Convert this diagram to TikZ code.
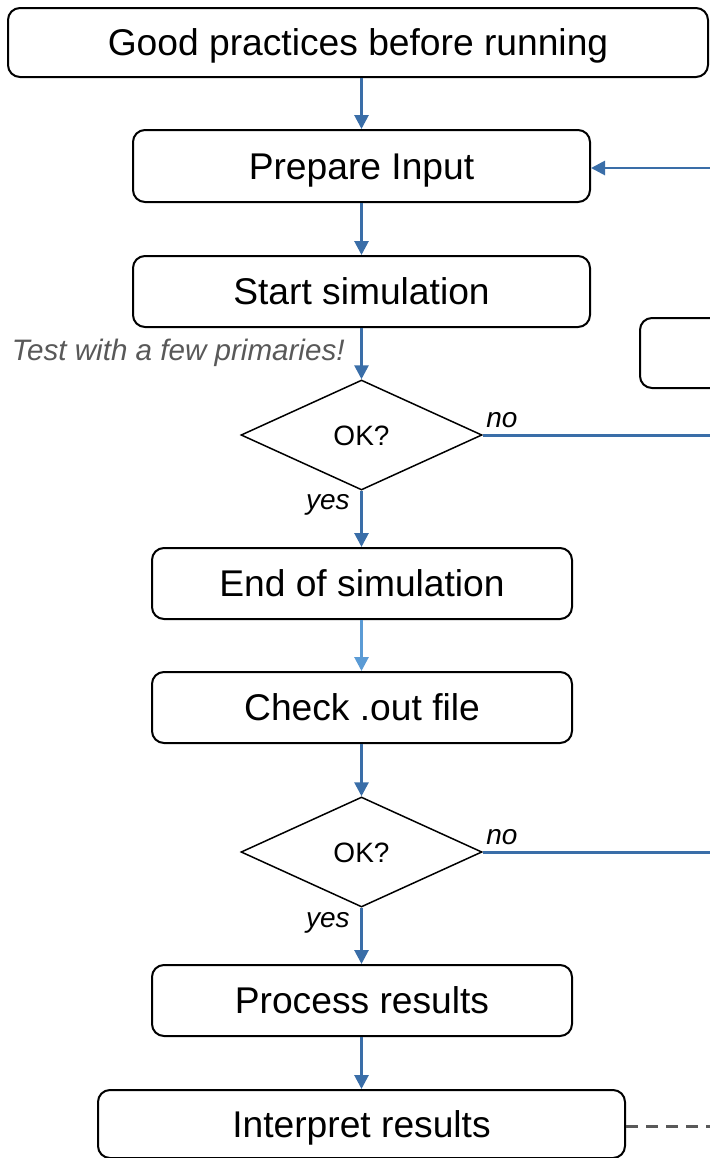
\documentclass[tikz,border=0pt]{standalone}
\usepackage{fontspec}
\setmainfont{Liberation Sans}
\usetikzlibrary{arrows.meta,shapes.geometric}
\definecolor{flowblue}{HTML}{3A6EA8}
\definecolor{lightblue}{HTML}{5B9BD5}
\definecolor{txtgray}{HTML}{595959}
\begin{document}
\begin{tikzpicture}[x=0.5pt,y=-0.5pt,
  box/.style={draw=black,line width=1pt,rounded corners=6pt,inner sep=0pt,
    text height=13.4pt,text depth=0pt,
    font=\fontsize{18.6}{22}\selectfont},
  decision/.style={draw=black,line width=0.75pt,diamond,inner sep=0pt,
    text height=10pt,text depth=0pt,
    minimum width=120.5pt,minimum height=55pt,font=\fontsize{14}{16}\selectfont},
  arr/.style={draw=flowblue,line width=1.4pt,-{Triangle[width=7pt,length=7pt]}},
  lightarr/.style={draw=lightblue,line width=1.4pt,-{Triangle[width=7pt,length=7pt]}},
  plainline/.style={draw=flowblue,line width=1.5pt},
  lbl/.style={inner sep=0pt,font=\fontsize{14}{16}\selectfont\itshape},
  note/.style={inner sep=0pt,text=txtgray,font=\fontsize{14.8}{17}\selectfont\itshape},
  dashline/.style={draw=txtgray,line width=1.5pt,dash pattern=on 6pt off 4pt}]
\useasboundingbox (0,0) rectangle (710,1158);
\clip (0,0) rectangle (710,1158);

\node[box,minimum width=350pt,minimum height=34.5pt] (b1) at (358,42.5) {Good practices before running};
\node[box,minimum width=228.5pt,minimum height=36pt] (prep) at (361.5,166) {Prepare Input};
\node[box,minimum width=228.5pt,minimum height=35.5pt] (start) at (361.5,291.5) {Start simulation};
\node[box,minimum width=80pt,minimum height=35pt] (side) at (720,353) {};
\node[decision] (d1) at (361.5,435) {OK?};
\node[box,minimum width=210pt,minimum height=35.5pt] (endsim) at (362,583.5) {End of simulation};
\node[box,minimum width=210pt,minimum height=35.5pt] (check) at (362,707.5) {Check .out file};
\node[decision] (d2) at (361.5,852) {OK?};
\node[box,minimum width=210pt,minimum height=35.5pt] (proc) at (362,1000.5) {Process results};
\node[box,minimum width=263.5pt,minimum height=34pt] (interp) at (361.5,1124) {Interpret results};

\coordinate (r0) at (715,168);
\coordinate (r1) at (715,435);
\coordinate (r2) at (715,852);
\coordinate (r3) at (715,1126);

\draw[arr] (b1.south -| prep.north) -- (prep.north);
\draw[arr] (r0) -- (prep.east |- r0);
\draw[arr] (prep) -- (start);
\draw[arr] (start) -- (d1.north);
\draw[plainline] (d1.east) -- (r1);
\draw[arr] (d1.south) -- (endsim.north -| d1.south);
\draw[lightarr] (endsim.south -| d1.south) -- (check.north -| d1.south);
\draw[arr] (check.south -| d1.south) -- (d2.north);
\draw[plainline] (d2.east) -- (r2);
\draw[arr] (d2.south) -- (proc.north -| d2.south);
\draw[arr] (proc.south -| d2.south) -- (interp.north);
\draw[dashline] (interp.east |- r3) -- (r3);

\node[note,anchor=east] (tip) at (345,353) {Test with a few primaries!};
\node[lbl,anchor=west] (no1) at (486,420) {no};
\node[lbl,anchor=east] (yes1) at (350,505) {yes};
\node[lbl,anchor=west] (no2) at (486,837) {no};
\node[lbl,anchor=east] (yes2) at (350,923) {yes};
\end{tikzpicture}
\end{document}
